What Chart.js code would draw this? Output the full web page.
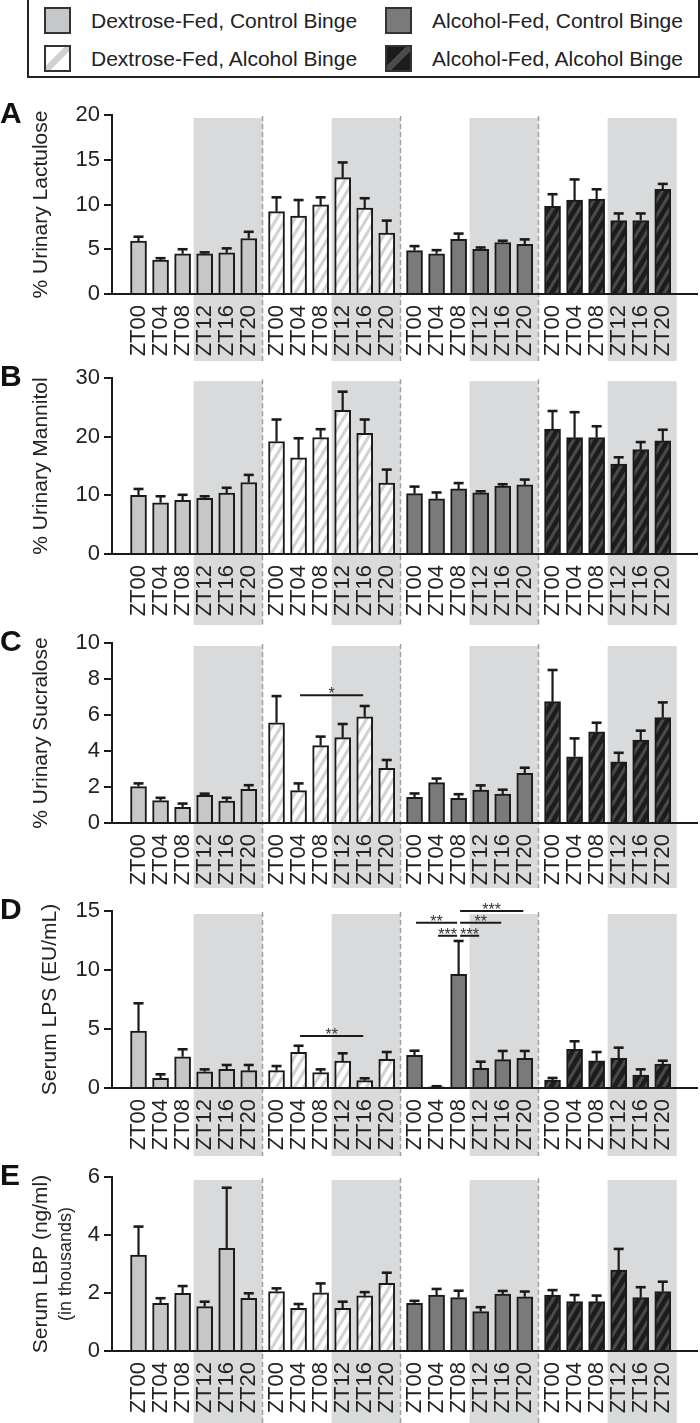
<!DOCTYPE html>
<html>
<head>
<meta charset="utf-8">
<script src="https://cdn.jsdelivr.net/npm/chart.js@4.4.1/dist/chart.umd.min.js"></script>
<style>
  body { margin: 0; background: #fff; font-family: 'Liberation Sans', Arial, sans-serif; color: #222; }
  #page { position: relative; width: 700px; height: 1423px; overflow: hidden; }
  #page canvas { position: absolute; left: 0; }
  .legend { position: absolute; left: 27px; top: -2px; width: 673px; height: 80px; box-sizing: border-box; border: 2px solid #222; }
  .item { position: absolute; font-size: 21px; line-height: 27px; white-space: nowrap; }
  .sw { display: inline-block; width: 27px; height: 27px; box-sizing: border-box; border: 2px solid #333; vertical-align: top; margin-right: 20px; }
</style>
</head>
<body>
<div id="page">
  <div class="legend">
    <div class="item" style="left:15px;top:7px"><span class="sw" style="background:#c6c7c8"></span>Dextrose-Fed, Control Binge</div>
    <div class="item" style="left:15px;top:45px"><span class="sw" style="background:linear-gradient(to bottom right,#fff 40%,#d0d0d0 40%,#d0d0d0 60%,#fff 60%)"></span>Dextrose-Fed, Alcohol Binge</div>
    <div class="item" style="left:356px;top:7px"><span class="sw" style="background:#7a7a7b"></span>Alcohol-Fed, Control Binge</div>
    <div class="item" style="left:356px;top:45px"><span class="sw" style="background:linear-gradient(to bottom right,#1c1c1c 40%,#4a4a4a 40%,#4a4a4a 60%,#1c1c1c 60%)"></span>Alcohol-Fed, Alcohol Binge</div>
  </div>
</div>
<script>
// Time points and treatment groups (dc / da / ac / aa).
const ZT = ['ZT00', 'ZT04', 'ZT08', 'ZT12', 'ZT16', 'ZT20'];
const GROUPS = ['Dextrose-Fed, Control Binge', 'Dextrose-Fed, Alcohol Binge', 'Alcohol-Fed, Control Binge', 'Alcohol-Fed, Alcohol Binge'];

// A: % urinary lactulose (mean, upper SEM)
const LAC_DC = [5.9, 3.8, 4.5, 4.5, 4.6, 6.2];
const LAC_DA = [9.2, 8.7, 9.95, 13.0, 9.6, 6.8];
const LAC_AC = [4.85, 4.5, 6.1, 5.0, 5.75, 5.55];
const LAC_AA = [9.8, 10.5, 10.6, 8.2, 8.2, 11.7];
const LAC_DC_SE = [0.5, 0.2, 0.5, 0.15, 0.5, 0.75];
const LAC_DA_SE = [1.6, 1.8, 0.85, 1.7, 1.1, 1.4];
const LAC_AC_SE = [0.5, 0.4, 0.65, 0.2, 0.2, 0.55];
const LAC_AA_SE = [1.35, 2.3, 1.1, 0.8, 0.8, 0.6];

// B: % urinary mannitol
const MAN_DC = [10.0, 8.75, 9.15, 9.5, 10.4, 12.2];
const MAN_DA = [19.2, 16.4, 19.85, 24.5, 20.6, 12.1];
const MAN_AC = [10.3, 9.4, 11.1, 10.45, 11.6, 11.8];
const MAN_AA = [21.3, 19.85, 19.85, 15.35, 17.8, 19.3];
const MAN_DC_SE = [1.1, 1.1, 0.95, 0.35, 0.9, 1.3];
const MAN_DA_SE = [3.75, 3.35, 1.45, 3.2, 2.35, 2.3];
const MAN_AC_SE = [1.2, 1.1, 1.0, 0.25, 0.3, 0.9];
const MAN_AA_SE = [3.1, 4.35, 1.95, 1.15, 1.3, 1.9];

// C: % urinary sucralose
const SUC_DC = [2.02, 1.24, 0.87, 1.54, 1.22, 1.87];
const SUC_DA = [5.57, 1.8, 4.3, 4.74, 5.9, 3.04];
const SUC_AC = [1.43, 2.24, 1.37, 1.83, 1.6, 2.76];
const SUC_AA = [6.74, 3.68, 5.07, 3.4, 4.6, 5.85];
const SUC_DC_SE = [0.18, 0.16, 0.21, 0.09, 0.18, 0.23];
const SUC_DA_SE = [1.48, 0.4, 0.5, 0.76, 0.6, 0.46];
const SUC_AC_SE = [0.21, 0.23, 0.23, 0.26, 0.25, 0.31];
const SUC_AA_SE = [1.76, 1.02, 0.5, 0.5, 0.53, 0.85];

// D: serum LPS (EU/mL)
const LPS_DC = [4.83, 0.82, 2.65, 1.38, 1.58, 1.47];
const LPS_DA = [1.47, 3.03, 1.3, 2.29, 0.62, 2.43];
const LPS_AC = [2.77, 0.1, 9.63, 1.67, 2.4, 2.52];
const LPS_AA = [0.68, 3.28, 2.31, 2.52, 1.1, 2.03];
const LPS_DC_SE = [2.35, 0.34, 0.63, 0.2, 0.37, 0.48];
const LPS_DA_SE = [0.39, 0.55, 0.28, 0.65, 0.2, 0.62];
const LPS_AC_SE = [0.39, 0.05, 2.83, 0.56, 0.74, 0.62];
const LPS_AA_SE = [0.17, 0.68, 0.74, 0.9, 0.48, 0.28];

// E: serum LBP (ng/ml, thousands)
const LBP_DC = [3.31, 1.64, 1.99, 1.53, 3.54, 1.82];
const LBP_DA = [2.05, 1.47, 2.01, 1.47, 1.9, 2.33];
const LBP_AC = [1.64, 1.93, 1.84, 1.36, 1.96, 1.87];
const LBP_AA = [1.93, 1.7, 1.7, 2.79, 1.84, 2.05];
const LBP_DC_SE = [0.98, 0.18, 0.25, 0.17, 2.09, 0.17];
const LBP_DA_SE = [0.11, 0.15, 0.32, 0.23, 0.13, 0.37];
const LBP_AC_SE = [0.09, 0.21, 0.24, 0.15, 0.11, 0.18];
const LBP_AA_SE = [0.17, 0.23, 0.21, 0.73, 0.36, 0.34];

// Significance brackets: group, from/to time index, height (data units), label
const SUC_SIG = [{ g: 1, from: 1, to: 4, y: 7.1, text: '*' }];
const LPS_SIG = [
  { g: 1, from: 1, to: 4, y: 4.4, text: '**' },
  { g: 2, from: 0, to: 2, y: 14.0, text: '**' },
  { g: 2, from: 1, to: 2, y: 12.9, text: '***' },
  { g: 2, from: 2, to: 3, y: 12.9, text: '***' },
  { g: 2, from: 2, to: 4, y: 14.0, text: '**' },
  { g: 2, from: 2, to: 5, y: 15.0, text: '***' },
];

const FONT = "'Liberation Sans', Arial, sans-serif";
const INK = '#1a1a1a';
const SHADE = '#d9dadb';
const GROUP_STRIDE = 6.26; // x units between group starts (slot = 1)
const GAP_MID = 5 + (GROUP_STRIDE - 5) / 2;

Chart.defaults.font.family = FONT;
Chart.defaults.color = '#222';

function stripes(bg, fg) {
  const c = document.createElement('canvas');
  c.width = 9;
  c.height = 15;
  const g = c.getContext('2d');
  g.fillStyle = bg;
  g.fillRect(0, 0, 9, 15);
  g.strokeStyle = fg;
  g.lineWidth = 3.2;
  for (let k = -1; k <= 1; k++) {
    g.beginPath();
    g.moveTo(9 * k - 9, 30);
    g.lineTo(9 * k + 18, -15);
    g.stroke();
  }
  return g.createPattern(c, 'repeat');
}

const FILLS = ['#c6c7c8', stripes('#ffffff', '#d2d2d2'), '#7a7a7b', stripes('#1c1c1c', '#4a4a4a')];
const TICK_POS = [];
for (let g = 0; g < 4; g++) for (let i = 0; i < 6; i++) TICK_POS.push(g * GROUP_STRIDE + i);

// Shading for dark phase, group separators, error bars, brackets, letters, titles.
const panelExtras = {
  id: 'panelExtras',
  beforeDraw(chart) {
    const { ctx, chartArea } = chart;
    const x = chart.scales.x;
    ctx.save();
    ctx.fillStyle = SHADE;
    for (let g = 0; g < 4; g++) {
      const x0 = x.getPixelForValue(g * GROUP_STRIDE + 2.5);
      const x1 = x.getPixelForValue(g * GROUP_STRIDE + GAP_MID);
      ctx.fillRect(x0, chartArea.top + 3, x1 - x0, chart.height - chartArea.top - 3);
    }
    ctx.strokeStyle = '#a0a0a0';
    ctx.lineWidth = 1.5;
    ctx.setLineDash([5, 3]);
    for (let g = 0; g < 3; g++) {
      const px = Math.round(x.getPixelForValue(g * GROUP_STRIDE + GAP_MID)) - 0.5;
      ctx.beginPath();
      ctx.moveTo(px, chartArea.top + 1);
      ctx.lineTo(px, chart.height);
      ctx.stroke();
    }
    ctx.restore();
  },
  afterDatasetsDraw(chart) {
    const { ctx } = chart;
    const y = chart.scales.y;
    ctx.save();
    ctx.strokeStyle = INK;
    chart.data.datasets.forEach((ds, i) => {
      chart.getDatasetMeta(i).data.forEach((bar, j) => {
        const top = y.getPixelForValue(ds.data[j].y + ds.errors[j]);
        ctx.lineWidth = 2.2;
        ctx.beginPath();
        ctx.moveTo(bar.x, bar.y);
        ctx.lineTo(bar.x, top);
        ctx.stroke();
        ctx.lineWidth = 2.6;
        ctx.beginPath();
        ctx.moveTo(bar.x - 5, top);
        ctx.lineTo(bar.x + 5, top);
        ctx.stroke();
      });
    });
    ctx.restore();
  },
  afterDraw(chart, args, opts) {
    const { ctx, chartArea } = chart;
    const x = chart.scales.x;
    const y = chart.scales.y;
    ctx.save();
    // brackets
    ctx.strokeStyle = INK;
    ctx.fillStyle = '#333';
    ctx.lineWidth = 2;
    ctx.font = '16px ' + FONT;
    ctx.textAlign = 'center';
    ctx.textBaseline = 'alphabetic';
    (opts.brackets || []).forEach((b) => {
      const x1 = x.getPixelForValue(b.g * GROUP_STRIDE + b.from) + 1.5;
      const x2 = x.getPixelForValue(b.g * GROUP_STRIDE + b.to) - 1.5;
      const py = y.getPixelForValue(b.y);
      ctx.beginPath();
      ctx.moveTo(x1, py);
      ctx.lineTo(x2, py);
      ctx.stroke();
      ctx.fillText(b.text, (x1 + x2) / 2, py + 4);
    });
    // panel letter
    ctx.fillStyle = '#111';
    ctx.font = 'bold 30px ' + FONT;
    ctx.textAlign = 'left';
    ctx.fillText(opts.letter, 0, chartArea.top + 8);
    // y title
    const cy = (chartArea.top + chartArea.bottom) / 2;
    ctx.fillStyle = '#222';
    ctx.textAlign = 'center';
    opts.title.forEach((t, k) => {
      ctx.save();
      ctx.translate(opts.titleX[k], cy);
      ctx.rotate(-Math.PI / 2);
      ctx.font = (k === 0 ? 21 : 18) + 'px ' + FONT;
      ctx.fillText(t, 0, 0);
      ctx.restore();
    });
    ctx.restore();
  },
};

function makePanel(p) {
  const canvas = document.createElement('canvas');
  canvas.width = 700;
  canvas.height = p.bottom - p.top;
  canvas.style.top = p.top + 'px';
  document.getElementById('page').appendChild(canvas);
  const xh = p.bottom - p.zero;
  new Chart(canvas.getContext('2d'), {
    type: 'bar',
    data: {
      datasets: p.values.map((vals, g) => ({
        label: GROUPS[g],
        data: vals.map((v, i) => ({ x: g * GROUP_STRIDE + i, y: v })),
        errors: p.errors[g],
        backgroundColor: FILLS[g],
        borderColor: INK,
        borderWidth: 2,
        barThickness: 16,
        grouped: false,
      })),
    },
    options: {
      responsive: false,
      animation: false,
      layout: { padding: { top: p.tickTop - p.top, right: 3, left: 0, bottom: 0 } },
      plugins: {
        legend: { display: false },
        tooltip: { enabled: false },
        panelExtras: { letter: p.letter, title: p.title, titleX: p.titleX, brackets: p.brackets },
      },
      scales: {
        x: {
          type: 'linear',
          min: -0.65,
          max: 3 * GROUP_STRIDE + 6,
          grid: { display: false },
          border: { display: true, color: INK, width: 2 },
          afterBuildTicks: (axis) => { axis.ticks = TICK_POS.map((v) => ({ value: v })); },
          afterFit: (axis) => { axis.height = xh; },
          ticks: {
            autoSkip: false,
            minRotation: 90,
            maxRotation: 90,
            padding: 3,
            color: '#222',
            font: { size: 22 },
            callback: (v, i) => ZT[i % 6],
          },
        },
        y: {
          min: 0,
          max: p.max,
          afterFit: (axis) => { axis.width = 112; },
          grid: { drawOnChartArea: false, drawTicks: true, tickLength: 8, lineWidth: 2, color: INK },
          border: { display: true, color: INK, width: 2 },
          ticks: { stepSize: p.step, padding: 4, color: '#222', font: { size: 22 } },
        },
      },
    },
    plugins: [panelExtras],
  });
}

const PANELS = [
  { letter: 'A', title: ['% Urinary Lactulose'], titleX: [47], top: 95, tickTop: 115, zero: 294, bottom: 361, max: 20, step: 5,
    values: [LAC_DC, LAC_DA, LAC_AC, LAC_AA], errors: [LAC_DC_SE, LAC_DA_SE, LAC_AC_SE, LAC_AA_SE], brackets: [] },
  { letter: 'B', title: ['% Urinary Mannitol'], titleX: [47], top: 361, tickTop: 377, zero: 554, bottom: 625, max: 30, step: 10,
    values: [MAN_DC, MAN_DA, MAN_AC, MAN_AA], errors: [MAN_DC_SE, MAN_DA_SE, MAN_AC_SE, MAN_AA_SE], brackets: [] },
  { letter: 'C', title: ['% Urinary Sucralose'], titleX: [47], top: 625, tickTop: 643, zero: 823, bottom: 888, max: 10, step: 2,
    values: [SUC_DC, SUC_DA, SUC_AC, SUC_AA], errors: [SUC_DC_SE, SUC_DA_SE, SUC_AC_SE, SUC_AA_SE], brackets: SUC_SIG },
  { letter: 'D', title: ['Serum LPS (EU/mL)'], titleX: [56], top: 888, tickTop: 911, zero: 1088, bottom: 1156, max: 15, step: 5,
    values: [LPS_DC, LPS_DA, LPS_AC, LPS_AA], errors: [LPS_DC_SE, LPS_DA_SE, LPS_AC_SE, LPS_AA_SE], brackets: LPS_SIG },
  { letter: 'E', title: ['Serum LBP (ng/ml)', '(in thousands)'], titleX: [47, 71], top: 1156, tickTop: 1177, zero: 1351, bottom: 1423, max: 6, step: 2,
    values: [LBP_DC, LBP_DA, LBP_AC, LBP_AA], errors: [LBP_DC_SE, LBP_DA_SE, LBP_AC_SE, LBP_AA_SE], brackets: [] },
];

PANELS.forEach(makePanel);
</script>
</body>
</html>
